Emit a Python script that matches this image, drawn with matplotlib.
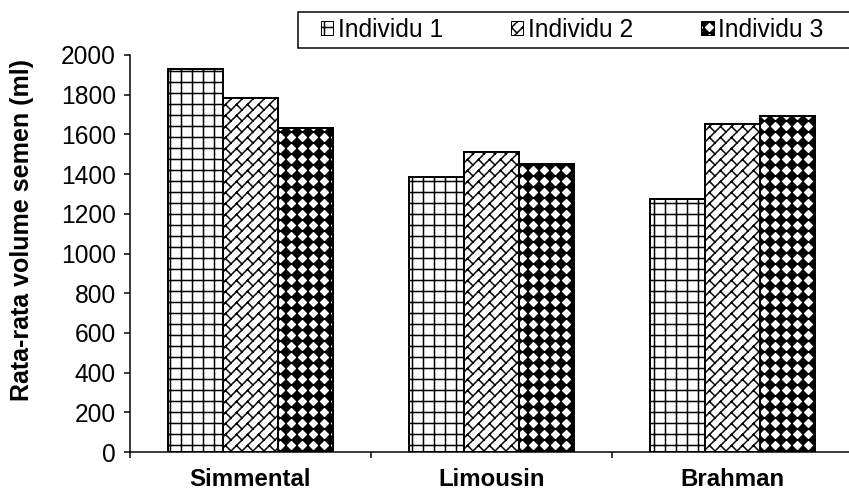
import numpy as np
import matplotlib
matplotlib.use("Agg")
import matplotlib.pyplot as plt
import matplotlib.hatch as mh
from matplotlib.path import Path
from matplotlib.patches import Patch, Rectangle

# ---------------- data ----------------
categories = ["Simmental", "Limousin", "Brahman"]
series_names = ["Individu 1", "Individu 2", "Individu 3"]
individu_1 = [1930, 1385, 1275]
individu_2 = [1785, 1510, 1650]
individu_3 = [1630, 1450, 1695]
y_ticks = [0, 200, 400, 600, 800, 1000, 1200, 1400, 1600, 1800, 2000]
y_label = "Rata-rata volume semen (ml)"

# ---------------- custom hatch patterns ----------------
class Bricks(mh.HatchPatternBase):
    """Diagonal brick pattern, triggered by 'O'."""
    def __init__(self, hatch, density):
        self.n = hatch.count('O')
        segs = []
        if self.n:
            m, p = 6, 3
            for k in range(-8, 9):
                v = k / m
                segs.append(((-0.3, v), (2.3, v)))
                for j in range(-2, 3 * p + 3):
                    u = j / p + (k % 2) / (2 * p)
                    segs.append(((u, v), (u, v + 1 / m)))
        self.segs = segs
        self.num_vertices = 2 * len(segs)

    def set_vertices_and_codes(self, vertices, codes):
        pts = []
        for (u0, v0), (u1, v1) in self.segs:
            pts.append(((u0 - v0) / 2, (u0 + v0) / 2))
            pts.append(((u1 - v1) / 2, (u1 + v1) / 2))
        vertices[:] = np.array(pts)
        codes[0::2] = Path.MOVETO
        codes[1::2] = Path.LINETO


class Diamonds(mh.HatchPatternBase):
    """Filled diamond grid, triggered by 'o'."""
    def __init__(self, hatch, density):
        self.n = hatch.count('o') * density
        self.num_vertices = 5 * (self.n + 1) ** 2 if self.n else 0

    def set_vertices_and_codes(self, vertices, codes):
        n = self.n
        r = 0.46 / n
        pts, cds = [], []
        for i in range(n + 1):
            for j in range(n + 1):
                cx, cy = i / n, j / n
                pts += [(cx, cy - r), (cx + r, cy), (cx, cy + r), (cx - r, cy), (cx, cy - r)]
                cds += [Path.MOVETO, Path.LINETO, Path.LINETO, Path.LINETO, Path.CLOSEPOLY]
        vertices[:] = np.array(pts)
        codes[:] = cds


new_types = []
for t in mh._hatch_types:
    if t is mh.SmallCircles:
        new_types.append(Diamonds)
    elif t is mh.LargeCircles:
        new_types.append(Bricks)
    else:
        new_types.append(t)
mh._hatch_types[:] = new_types

# ---------------- figure ----------------
DPI = 66
W, H = 849, 496
def px(p):
    return p * 72.0 / DPI

plt.rcParams['font.family'] = ['Liberation Sans', 'DejaVu Sans']
plt.rcParams['hatch.linewidth'] = px(1.5)
plt.rcParams['hatch.color'] = 'black'

fig = plt.figure(figsize=(W / DPI, H / DPI), dpi=DPI)
ax_left, ax_right, ax_top, ax_bottom = 130, 849, 55, 452
ax = fig.add_axes([ax_left / W, (H - ax_bottom) / H,
                   (ax_right - ax_left) / W, (ax_bottom - ax_top) / H])

x = np.arange(len(categories))
bw = 0.227
hatches = ['+', 'O', 'o']
all_series = [individu_1, individu_2, individu_3]
for i, (vals, h) in enumerate(zip(all_series, hatches)):
    ax.bar(x + (i - 1) * bw, vals, width=bw, facecolor='white',
           edgecolor='black', hatch=h, linewidth=px(2.0), zorder=2)

ax.set_ylim(0, 2000)
ax.set_xlim(-0.5, -0.5 + (ax_right - ax_left) / 241.0)
ax.set_yticks(y_ticks)
ax.set_yticklabels([str(v) for v in y_ticks], fontsize=px(24.5))
ax.tick_params(axis='y', direction='out', length=px(6), width=px(1.5), pad=px(8))

ax.set_xticks([-0.5, 0.5, 1.5])
ax.set_xticklabels([])
ax.tick_params(axis='x', which='major', direction='out', length=px(6), width=px(1.5))
ax.set_xticks(x, minor=True)
ax.set_xticklabels(categories, minor=True, fontsize=px(24), fontweight='bold')
ax.tick_params(axis='x', which='minor', length=0, pad=px(16))

for s in ['top', 'right']:
    ax.spines[s].set_visible(False)
for s in ['left', 'bottom']:
    ax.spines[s].set_linewidth(px(1.5))

ax.set_ylabel(y_label, fontsize=px(25), fontweight='bold')
ax.yaxis.set_label_coords(-0.134, 0.56)

# legend frame running off the right edge
frame = Rectangle((298 / W, 1 - 48 / H), (853 - 298) / W, 36 / H,
                  transform=fig.transFigure, facecolor='white',
                  edgecolor='black', linewidth=px(1.5), zorder=5)
fig.patches.append(frame)

handles = [Patch(facecolor='white', edgecolor='black', hatch=h, linewidth=px(1.0))
           for h in hatches]
leg = fig.legend(handles, series_names, loc='center left',
                 bbox_to_anchor=(321 / W, 1 - 30 / H), ncol=3,
                 fontsize=px(24.6), frameon=False,
                 handlelength=0.5, handleheight=0.5, handletextpad=0.2,
                 columnspacing=2.75, borderpad=0, borderaxespad=0)
leg.set_zorder(6)

fig.savefig("out.png", dpi=DPI)
